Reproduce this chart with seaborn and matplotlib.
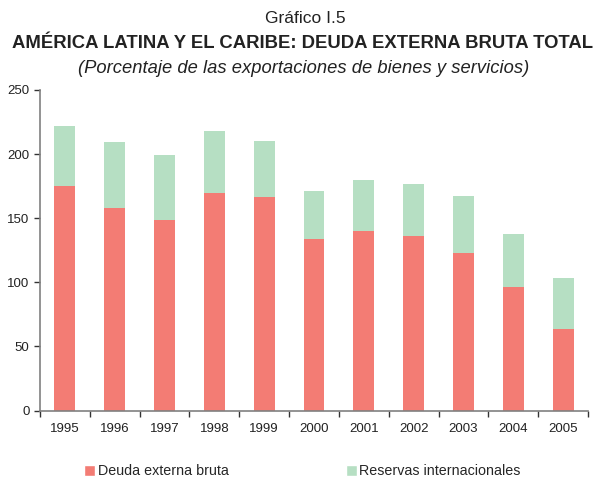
import matplotlib
matplotlib.use("Agg")
import matplotlib.pyplot as plt
from matplotlib.patches import Patch
import seaborn as sns
import numpy as np
import pandas as pd

# data
years = ["1995", "1996", "1997", "1998", "1999", "2000", "2001", "2002", "2003", "2004", "2005"]
deuda = [175.0, 158.0, 148.5, 169.5, 166.5, 133.7, 139.8, 136.0, 122.8, 96.2, 63.4]
reservas = [47.0, 51.5, 50.8, 48.5, 43.8, 37.4, 40.0, 40.6, 44.5, 41.4, 39.8]
yticks = [0, 50, 100, 150, 200, 250]

red = "#f37c74"
green = "#b6dfc3"
axis_col = "#808080"

df = pd.DataFrame({"year": years, "deuda": deuda, "reservas": reservas})
df["total"] = df["deuda"] + df["reservas"]

sns.set_style("white")
plt.rcParams["font.family"] = ["Liberation Sans", "DejaVu Sans"]

fig = plt.figure(figsize=(6.05, 4.78), dpi=100)
ax = fig.add_axes([0.066, 0.141, 0.906, 0.671])

sns.barplot(data=df, x="year", y="total", color=green, width=0.42,
            saturation=1, linewidth=0, edgecolor="none", ax=ax)
sns.barplot(data=df, x="year", y="deuda", color=red, width=0.42,
            saturation=1, linewidth=0, edgecolor="none", ax=ax)

ax.set_xlim(-0.5, len(years) - 0.5)
ax.set_ylim(0, 250)
ax.set_yticks(yticks)
ax.set_xlabel("")
ax.set_ylabel("")

# tick marks between categories, labels under bars
ax.set_xticks(np.arange(-0.5, len(years), 1.0), minor=True)
ax.tick_params(axis="x", which="major", bottom=True, length=0, pad=9,
               labelsize=9.5, labelcolor="#222222")
ax.tick_params(axis="x", which="minor", bottom=True, length=4, width=1,
               direction="out", color="#333333")
ax.tick_params(axis="y", which="major", left=True, length=4, width=1,
               direction="out", labelsize=9.5, labelcolor="#222222",
               color="#333333")

sns.despine(ax=ax)
for s in ["left", "bottom"]:
    ax.spines[s].set_color(axis_col)
    ax.spines[s].set_linewidth(1.2)

fig.text(0.504, 0.962, "Gráfico I.5", ha="center", va="center", fontsize=12.5,
         color="#222222")
fig.text(0.5, 0.908, "AMÉRICA LATINA Y EL CARIBE: DEUDA EXTERNA BRUTA TOTAL",
         ha="center", va="center", fontsize=13.3, fontweight="bold",
         color="#222222")
fig.text(0.502, 0.857, "(Porcentaje de las exportaciones de bienes y servicios)",
         ha="center", va="center", fontsize=13.2, style="italic", color="#222222")

handles = [Patch(facecolor=red, label="Deuda externa bruta"),
           Patch(facecolor=green, label="Reservas internacionales")]
fig.legend(handles=handles, loc="center", bbox_to_anchor=(0.5, 0.014),
           ncol=2, frameon=False, fontsize=10.25, handlelength=0.77,
           handleheight=0.77, handletextpad=0.2, columnspacing=8.2)

fig.savefig("out.png", dpi=100)
